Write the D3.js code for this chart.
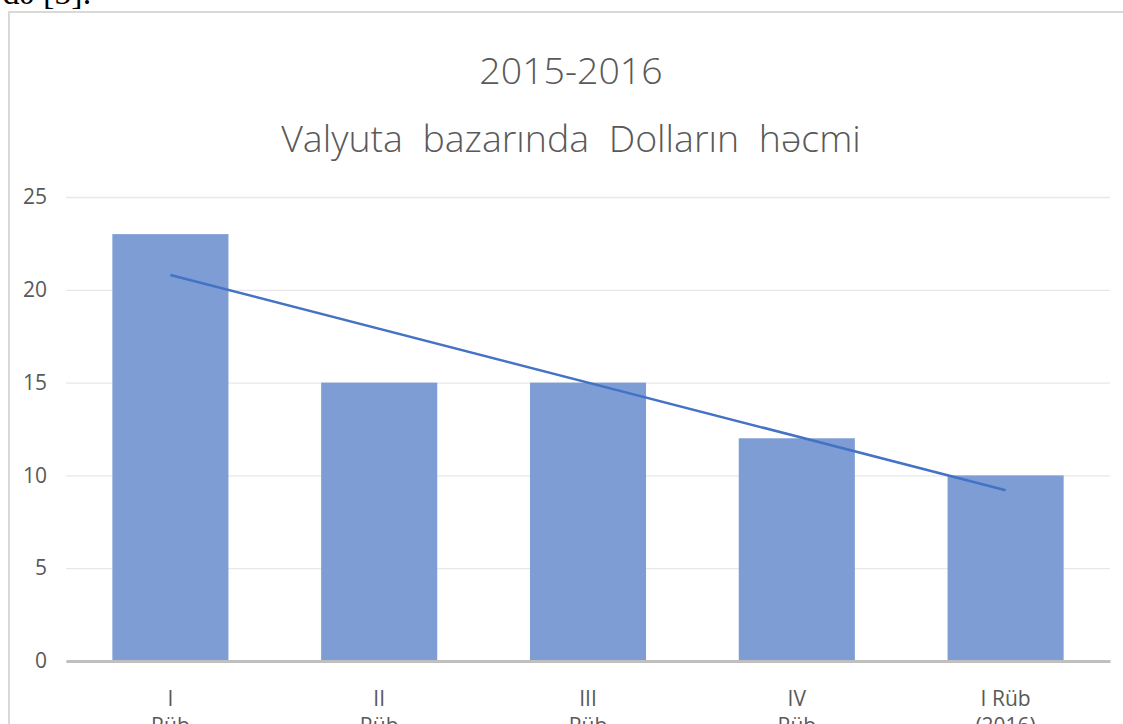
<!DOCTYPE html>
<html>
<head>
<meta charset="utf-8">
<style>
body { margin: 0; background: #fff; }
svg { display: block; }
.tick text { font-family: "Open Sans", "Liberation Sans", sans-serif; fill: #595959; }
</style>
</head>
<body>
<div id="chart"></div>
<script src="https://d3js.org/d3.v7.min.js"></script>
<script>

var categories = [["I", "Rüb"], ["II", "Rüb"], ["III", "Rüb"], ["IV", "Rüb"], ["I Rüb", "(2016)"]];
var values = [23, 15, 15, 12, 10];
// linear trend line, read at first and last category
var trendValues = [20.8, 9.2];
var yTicks = [0, 5, 10, 15, 20, 25];
var titleLines = ["2015-2016", "Valyuta  bazarında  Dolların  həcmi"];

var width = 1123, height = 724;
var margin = {left: 66, right: 13, top: 197, bottom: 63};

var svg = d3.select("#chart").append("svg")
    .attr("width", width)
    .attr("height", height);

// bit of document text cut off above the chart
svg.append("text")
    .attr("x", -24)
    .attr("y", 4)
    .style("font-family", "'Liberation Serif', serif")
    .style("font-size", "34px")
    .attr("fill", "#000")
    .text("ərdə [5].");

// chart frame
svg.append("rect")
    .attr("x", 9)
    .attr("y", 12)
    .attr("width", 1140)
    .attr("height", 760)
    .attr("fill", "none")
    .attr("stroke", "#d9d9d9")
    .attr("stroke-width", 2);

svg.selectAll(".title")
    .data(titleLines)
    .enter().append("text")
    .attr("class", "title")
    .attr("x", 571)
    .attr("y", function(d, i) { return 84 + i * 68; })
    .attr("text-anchor", "middle")
    .style("font-family", "'Open Sans', sans-serif")
    .style("font-weight", 300)
    .style("font-size", "37.5px")
    .attr("fill", "#595959")
    .style("white-space", "pre")
    .text(function(d) { return d; });

var x = d3.scaleBand()
    .domain(d3.range(categories.length))
    .range([margin.left, width - margin.right])
    .paddingInner(0.444)
    .paddingOuter(0.222);

var y = d3.scaleLinear()
    .domain([0, 25])
    .range([height - margin.bottom, margin.top]);

// gridlines + y labels
var yAxis = svg.append("g")
    .attr("transform", "translate(" + margin.left + ",0)")
    .call(d3.axisLeft(y).tickValues(yTicks)
        .tickSize(-(width - margin.left - margin.right))
        .tickPadding(19));
yAxis.select(".domain").remove();
yAxis.selectAll(".tick line").attr("stroke", "#e8e8e8").attr("stroke-width", 1.3);
yAxis.selectAll(".tick text").style("font-size", "21px");

svg.selectAll(".bar")
    .data(values)
    .enter().append("rect")
    .attr("class", "bar")
    .attr("x", function(d, i) { return x(i); })
    .attr("y", function(d) { return y(d); })
    .attr("width", x.bandwidth())
    .attr("height", function(d) { return y(0) - y(d); })
    .attr("fill", "#7f9dd5");

// category axis
var xAxis = svg.append("g")
    .attr("transform", "translate(0," + y(0) + ")")
    .call(d3.axisBottom(x).tickSize(0).tickFormat(""));
xAxis.select(".domain").attr("stroke", "#bfbfbf").attr("stroke-width", 3);

var labels = xAxis.selectAll(".tick").append("text")
    .attr("text-anchor", "middle")
    .style("font-size", "21px")
    .attr("fill", "#595959");
labels.selectAll("tspan")
    .data(function(d) { return categories[d]; })
    .enter().append("tspan")
    .attr("x", 0)
    .attr("y", function(d, i) { return 45 + i * 27; })
    .text(function(d) { return d; });

// trend line
var trendX = [0, categories.length - 1];
svg.append("line")
    .attr("x1", x(trendX[0]) + x.bandwidth() / 2)
    .attr("y1", y(trendValues[0]))
    .attr("x2", x(trendX[1]) + x.bandwidth() / 2)
    .attr("y2", y(trendValues[1]))
    .attr("stroke", "#4472c4")
    .attr("stroke-width", 2.6);

</script>
</body>
</html>
